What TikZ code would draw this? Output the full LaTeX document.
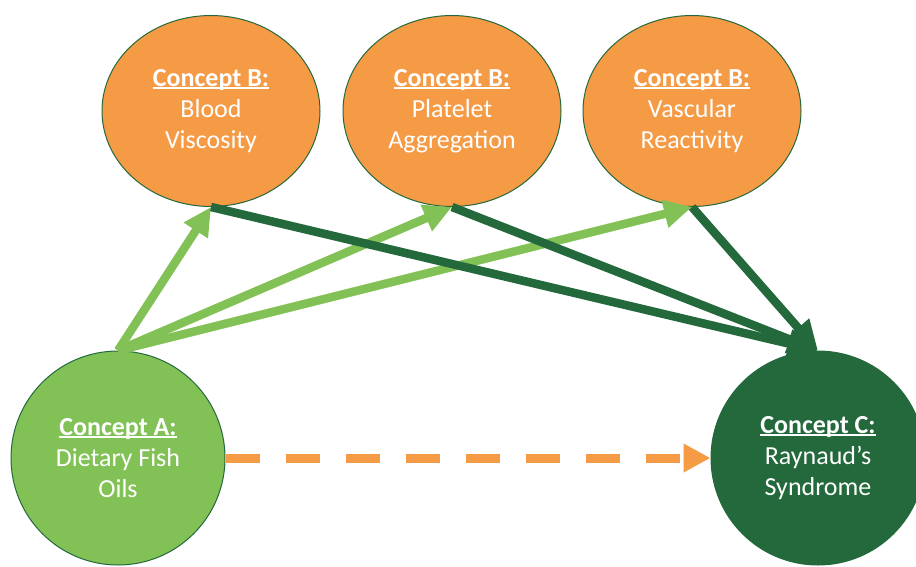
\documentclass[tikz,border=0pt]{standalone}
\usepackage{fontspec}
\setmainfont{Carlito}
\usetikzlibrary{arrows.meta,shapes.geometric}

\definecolor{conceptorange}{HTML}{F59A45}
\definecolor{lightgreen}{HTML}{82C156}
\definecolor{darkgreen}{HTML}{23693B}

% heading underline sitting just below the baseline
\newcommand{\headline}[1]{{\bfseries\setbox0\hbox{#1}\rlap{\rule[-0.1em]{\wd0}{0.065em}}\box0}}

\tikzset{
  concept/.style={draw=darkgreen, line width=1pt, text=white, align=center, inner sep=0pt,
    font=\fontsize{26}{31}\selectfont},
  bnode/.style={concept, ellipse, fill=conceptorange, minimum width=218pt, minimum height=191pt},
  roundnode/.style={concept, circle, minimum size=214pt},
  uplink/.style={draw=lightgreen, line width=8.5pt, -{Triangle[length=28pt,width=27pt]}},
  downlink/.style={draw=darkgreen, line width=8.5pt, -{Triangle[length=30pt,width=27pt]}},
  directlink/.style={draw=conceptorange, line width=9pt, dash pattern=on 34pt off 26pt,
    -{Triangle[length=27pt,width=27pt]}},
}

\begin{document}
\begin{tikzpicture}[x=1pt,y=-1pt]
  \useasboundingbox (0,0) rectangle (916,566);

  \node[bnode] (b1) at (211,111) {\headline{Concept B:}\\Blood\\Viscosity};
  \node[bnode] (b2) at (452,111) {\headline{Concept B:}\\Platelet\\Aggregation};
  \node[bnode] (b3) at (692,111) {\headline{Concept B:}\\Vascular\\Reactivity};

  \node[roundnode, fill=lightgreen] (a) at (118,458) {\headline{Concept A:}\\Dietary Fish\\Oils};
  \node[roundnode, fill=darkgreen] (c) at (818,458) {\headline{Concept C:}\\Raynaud’s\\Syndrome};

  % A to each mediator
  \draw[uplink] (a.north) -- (b1.south);
  \draw[uplink] (a.north) -- (b2.south);
  \draw[uplink] (a.north) -- (b3.south);

  % each mediator to C
  \draw[downlink] (b1.south) -- (c.north);
  \draw[downlink] (b2.south) -- (c.north);
  \draw[downlink] (b3.south) -- (c.north);

  % direct link A to C
  \draw[directlink] (a.east) -- (c.west);
\end{tikzpicture}
\end{document}
